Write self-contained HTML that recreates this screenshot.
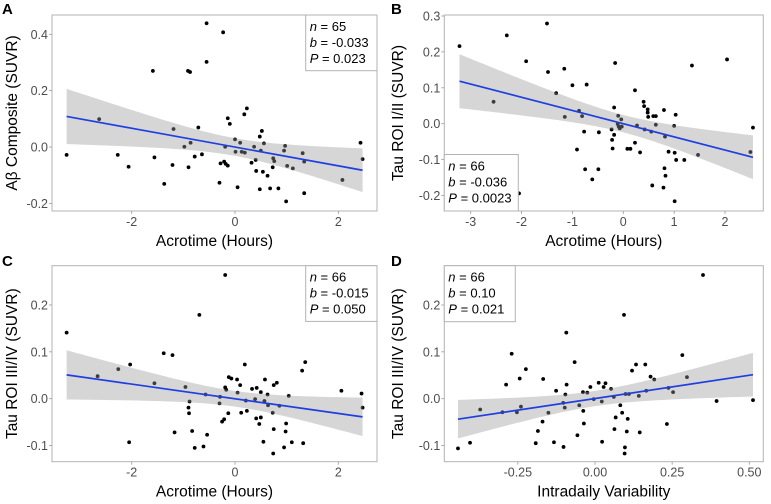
<!DOCTYPE html>
<html><head><meta charset="utf-8">
<style>
body{margin:0;background:#fff;width:771px;height:504px;overflow:hidden;font-family:"Liberation Sans",Arial,sans-serif}
svg{display:block}
</style></head>
<body>
<svg id="chart" width="771" height="504" viewBox="0 0 771 504" xmlns="http://www.w3.org/2000/svg"></svg>
<script>
// ---- Panel A data ----
const aX=[-3.26,-2.63,-2.27,-2.06,-1.59,-1.56,-1.37,-1.21,-1.19,-0.98,-0.91,-0.87,-0.90,-0.86,-0.78,-0.71,-0.64,-0.55,-0.55,-0.30,-0.28,-0.23,-0.21,-0.19,-0.18,-0.14,-0.14,-0.10,0.0,0.01,0.05,0.10,0.13,0.18,0.19,0.23,0.32,0.37,0.40,0.41,0.48,0.48,0.50,0.52,0.54,0.56,0.63,0.68,0.73,0.74,0.76,0.84,0.95,0.97,0.99,1.01,1.12,1.31,1.34,1.34,2.08,2.43,2.47];
const aY=[-0.028,0.099,-0.028,-0.07,0.27,-0.037,-0.131,-0.064,0.064,0.001,0.27,0.266,-0.072,0.015,-0.034,0.069,-0.026,0.439,0.302,-0.127,-0.058,0.407,-0.052,0.001,-0.06,-0.066,0.102,0.082,0.027,-0.017,-0.143,0.015,-0.017,0.116,-0.02,0.137,-0.056,0.001,-0.046,-0.085,0.037,-0.150,-0.013,0.057,-0.088,0.013,-0.102,-0.147,-0.072,-0.040,-0.05,-0.147,-0.013,0.004,-0.193,-0.067,-0.076,-0.022,-0.052,-0.164,-0.117,0.015,-0.043];
const aXTicks=[-2,0,2];
const aYTicks=[-0.2,0.0,0.2,0.4];
const aYTickLabels=["-0.2","0.0","0.2","0.4"];
const aStats=["65","-0.033","0.023"];
// ---- Panel B data ----
const bX=[-3.22,-2.55,-2.29,-2.05,-1.91,-1.50,-1.48,-1.32,-1.16,-1.15,-1.00,-0.91,-0.87,-0.81,-0.77,-0.75,-0.72,-0.61,-0.49,-0.48,-0.23,-0.22,-0.21,-0.18,-0.18,-0.16,-0.11,-0.10,-0.09,-0.07,-0.04,-0.03,0.08,0.14,0.23,0.23,0.27,0.33,0.40,0.41,0.42,0.48,0.48,0.49,0.55,0.57,0.59,0.64,0.64,0.80,0.81,0.82,0.83,0.79,0.89,1.00,1.01,1.01,1.03,1.04,1.20,1.35,1.47,2.04,2.50,2.55];
const bY=[0.216,0.061,0.246,-0.194,0.174,0.279,0.144,0.085,0.153,0.019,0.107,-0.072,0.036,0.021,-0.022,-0.127,0.109,-0.155,-0.127,-0.024,-0.016,-0.045,-0.069,0.045,-0.031,0.169,-0.001,0.022,-0.008,-0.013,0.012,-0.008,-0.070,-0.070,-0.053,0.093,-0.005,-0.080,0.061,0.049,-0.016,0.040,0.031,0.019,-0.022,-0.172,0.021,0.021,-0.003,0.038,-0.124,-0.036,-0.145,-0.178,-0.078,-0.006,-0.081,-0.216,0.025,-0.101,-0.101,0.162,-0.087,0.179,-0.079,-0.011];
const bXTicks=[-3,-2,-1,0,1,2];
const bYTicks=[-0.2,-0.1,0.0,0.1,0.2,0.3];
const bYTickLabels=["-0.2","-0.1","0.0","0.1","0.2","0.3"];
const bStats=["66","-0.036","0.0023"];
// ---- Panel C data ----
const cX=[-3.26,-2.66,-2.26,-2.05,-2.03,-1.56,-1.38,-1.21,-1.17,-0.96,-0.90,-0.89,-0.88,-0.83,-0.78,-0.61,-0.69,-0.57,-0.54,-0.29,-0.30,-0.25,-0.21,-0.19,-0.19,-0.17,-0.13,-0.12,-0.07,0.04,0.05,0.10,0.12,0.19,0.21,0.23,0.33,0.39,0.41,0.42,0.47,0.50,0.50,0.55,0.57,0.58,0.63,0.64,0.73,0.75,0.75,0.74,0.81,0.86,0.95,0.99,0.98,1.04,1.10,1.30,1.32,1.36,2.06,2.45,2.47];
const cY=[0.141,0.048,0.063,-0.093,0.073,0.033,0.097,0.093,-0.072,0.025,-0.019,-0.031,-0.006,-0.069,-0.105,-0.102,0.179,0.009,-0.077,0.004,-0.010,-0.049,-0.044,0.024,0.264,0.019,-0.031,0.046,0.043,0.041,0.013,0.029,-0.030,0.073,-0.004,-0.026,0.021,-0.001,-0.042,0.023,-0.054,0.014,-0.040,-0.092,-0.005,0.041,0.009,-0.014,-0.030,0.029,-0.065,-0.117,0.034,-0.015,-0.104,-0.053,-0.070,0.006,-0.093,0.060,-0.095,0.078,0.017,0.011,-0.019];
const cXTicks=[-2,0,2];
const cYTicks=[-0.1,0.0,0.1,0.2];
const cYTickLabels=["-0.1","0.0","0.1","0.2"];
const cStats=["66","-0.015","0.050"];
// ---- Panel D data ----
const dX=[-0.444,-0.405,-0.372,-0.300,-0.288,-0.270,-0.253,-0.244,-0.240,-0.224,-0.192,-0.185,-0.170,-0.168,-0.151,-0.133,-0.126,-0.103,-0.102,-0.098,-0.096,-0.093,-0.092,-0.066,-0.057,-0.051,-0.039,-0.038,-0.036,-0.025,-0.015,-0.004,0.012,0.022,0.023,0.028,0.034,0.052,0.061,0.063,0.067,0.082,0.088,0.094,0.097,0.096,0.099,0.103,0.106,0.110,0.120,0.133,0.142,0.145,0.163,0.166,0.180,0.192,0.233,0.238,0.253,0.283,0.298,0.350,0.394,0.512];
const dY=[-0.106,-0.094,-0.023,-0.029,0.030,0.096,-0.029,0.043,-0.017,0.063,-0.095,-0.069,-0.049,0.042,-0.030,-0.093,0.017,-0.009,-0.103,-0.019,0.009,0.141,0.030,0.078,-0.078,-0.014,0.014,-0.026,-0.053,0.013,0.025,-0.001,0.034,-0.006,-0.092,0.025,0.033,0.021,0.004,-0.065,-0.040,-0.014,-0.030,0.179,-0.104,-0.117,0.010,-0.070,-0.043,0.010,0.060,0.073,0.006,-0.072,0.073,0.017,0.047,0.041,-0.054,0.023,0.014,0.093,0.046,0.264,-0.005,-0.003];
const dXTicks=[-0.25,0.0,0.25,0.5];
const dXTickLabels=["-0.25","0.00","0.25","0.50"];
const dYTicks=[-0.1,0.0,0.1,0.2];
const dYTickLabels=["-0.1","0.0","0.1","0.2"];
const dStats=["66","0.10","0.021"];

const NS="http://www.w3.org/2000/svg";
const svg=document.getElementById('chart');
function mk(tag,attrs,parent,text){const e=document.createElementNS(NS,tag);for(const k in attrs)e.setAttribute(k,attrs[k]);if(text!==undefined)e.textContent=text;(parent||svg).appendChild(e);return e;}

function panel(cfg){
  const g=mk('g',{});
  
  
  const {x0,x1,y0,y1}=cfg.rect;
  const sx=v=>cfg.xPx[0]+(v-cfg.xDom[0])*(cfg.xPx[1]-cfg.xPx[0])/(cfg.xDom[1]-cfg.xDom[0]);
  const sy=v=>cfg.yPx[0]+(v-cfg.yDom[0])*(cfg.yPx[1]-cfg.yPx[0])/(cfg.yDom[1]-cfg.yDom[0]);
  const clipId='clip'+cfg.id;
  const cp=mk('clipPath',{id:clipId},g);mk('rect',{x:x0,y:y0,width:x1-x0,height:y1-y0},cp);
  const pts=mk('g',{'clip-path':'url(#'+clipId+')'},g);
  
  
  const X=cfg.X,Y=cfg.Y,n=X.length;
  for(let i=0;i<n;i++){
    const c=mk('circle',{cx:sx(X[i]).toFixed(2),cy:sy(Y[i]).toFixed(2),r:1.9,fill:'#000'},pts);
    
    
  }
  let mx=0,my=0;for(let i=0;i<n;i++){mx+=X[i];my+=Y[i];}mx/=n;my/=n;
  let sxx=0,sxy=0;for(let i=0;i<n;i++){sxx+=(X[i]-mx)**2;sxy+=(X[i]-mx)*(Y[i]-my);}
  const b=sxy/sxx,a=my-b*mx;
  let sse=0;for(let i=0;i<n;i++)sse+=(Y[i]-a-b*X[i])**2;
  const s=Math.sqrt(sse/(n-2)),t=2.0;
  const xmin=Math.min(...X),xmax=Math.max(...X);
  const up=[],lo=[];
  for(let k=0;k<=60;k++){
    const xv=xmin+(xmax-xmin)*k/60;const yh=a+b*xv;
    const se=s*Math.sqrt(1/n+(xv-mx)**2/sxx);
    up.push(sx(xv).toFixed(2)+','+sy(yh+t*se).toFixed(2));
    lo.unshift(sx(xv).toFixed(2)+','+sy(yh-t*se).toFixed(2));
  }
  const band=mk('polygon',{points:up.concat(lo).join(' '),fill:'#999999','fill-opacity':0.4,'clip-path':'url(#'+clipId+')'},g);
  
  
  const line=mk('line',{x1:sx(xmin),y1:sy(a+b*xmin),x2:sx(xmax),y2:sy(a+b*xmax),stroke:'#1f3fe0','stroke-width':1.7},g);
  
  
  const fr=mk('rect',{x:x0,y:y0,width:x1-x0,height:y1-y0,fill:'none',stroke:'#b3b3b3','stroke-width':1},g);
  
  
  cfg.xTicks.forEach((v,i)=>{
    const px=sx(v);
    mk('line',{x1:px,y1:y1,x2:px,y2:y1+3,stroke:'#999','stroke-width':0.8},g);
    const tl=mk('text',{x:px,y:y1+15,'text-anchor':'middle','font-size':12.5,fill:'#4d4d4d'},g,cfg.xLabels?cfg.xLabels[i]:String(v));
    
    
  });
  cfg.yTicks.forEach((v,i)=>{
    const py=sy(v);
    mk('line',{x1:x0-3,y1:py,x2:x0,y2:py,stroke:'#999','stroke-width':0.8},g);
    const tl=mk('text',{x:x0-4,y:py+4.5,'text-anchor':'end','font-size':12.5,fill:'#4d4d4d'},g,cfg.yLabels[i]);
    
    
  });
  const xt=mk('text',{x:(x0+x1)/2,y:y1+35,'text-anchor':'middle','font-size':15.5,fill:'#000'},g,cfg.xTitle);
  
  
  const ycx=cfg.yTitleX, ycy=(y0+y1)/2;
  const yt=mk('text',{x:ycx,y:ycy,'text-anchor':'middle','font-size':15.5,fill:'#000',transform:'rotate(-90 '+ycx+' '+ycy+')'},g,cfg.yTitle);
  
  
  const lt=mk('text',{x:cfg.letter[0],y:cfg.letter[1],'font-size':15,'font-weight':'bold',fill:'#000'},g,cfg.id.toUpperCase());
  
  
  const L=cfg.leg;
  const lb=mk('g',{},g);
  
  
  mk('rect',{x:L[0],y:L[1],width:L[2],height:L[3],fill:'#fff',stroke:'#b3b3b3','stroke-width':1},lb);
  const names=['n','b','P'];
  for(let i=0;i<3;i++){
    const tx=mk('text',{x:L[0]+4,y:L[1]+16+i*16,'font-size':13,fill:'#000'},lb);
    mk('tspan',{'font-style':'italic'},tx,names[i]);
    mk('tspan',{},tx,' = '+cfg.stats[i]);
  }
}

panel({id:'a',rect:{x0:52,x1:377,y0:15,y1:211},xDom:[-2,2],xPx:[131.7,338.3],yDom:[0,0.4],yPx:[147,34.3],
  X:aX,Y:aY,xTicks:aXTicks,yTicks:aYTicks,yLabels:aYTickLabels,stats:aStats,
  xTitle:'Acrotime (Hours)',yTitle:'Aβ Composite (SUVR)',yTitleX:17,letter:[2,14],leg:[305.7,15,71.3,55.7]});
panel({id:'b',rect:{x0:444.3,x1:763.3,y0:15,y1:211},xDom:[-3,2],xPx:[470.7,725],yDom:[0,0.3],yPx:[123.7,16],
  X:bX,Y:bY,xTicks:bXTicks,yTicks:bYTicks,yLabels:bYTickLabels,stats:bStats,
  xTitle:'Acrotime (Hours)',yTitle:'Tau ROI I/II (SUVR)',yTitleX:403,letter:[391,14],leg:[444.3,154.5,74,56.5]});
panel({id:'c',rect:{x0:52,x1:377,y0:265.7,y1:461.7},xDom:[-2,2],xPx:[131.7,338.3],yDom:[0,0.2],yPx:[398.7,305],
  X:cX,Y:cY,xTicks:cXTicks,yTicks:cYTicks,yLabels:cYTickLabels,stats:cStats,
  xTitle:'Acrotime (Hours)',yTitle:'Tau ROI III/IV (SUVR)',yTitleX:17,letter:[2,266],leg:[305.7,265.7,71.3,55.7]});
panel({id:'d',rect:{x0:444.3,x1:763.3,y0:265.7,y1:461.7},xDom:[0,0.5],xPx:[595,749.3],yDom:[0,0.2],yPx:[398.7,305],
  X:dX,Y:dY,xTicks:dXTicks,xLabels:dXTickLabels,yTicks:dYTicks,yLabels:dYTickLabels,stats:dStats,
  xTitle:'Intradaily Variability',yTitle:'Tau ROI III/IV (SUVR)',yTitleX:403,letter:[391,266],leg:[444.3,265.7,71,56]});
</script>
</body></html>
